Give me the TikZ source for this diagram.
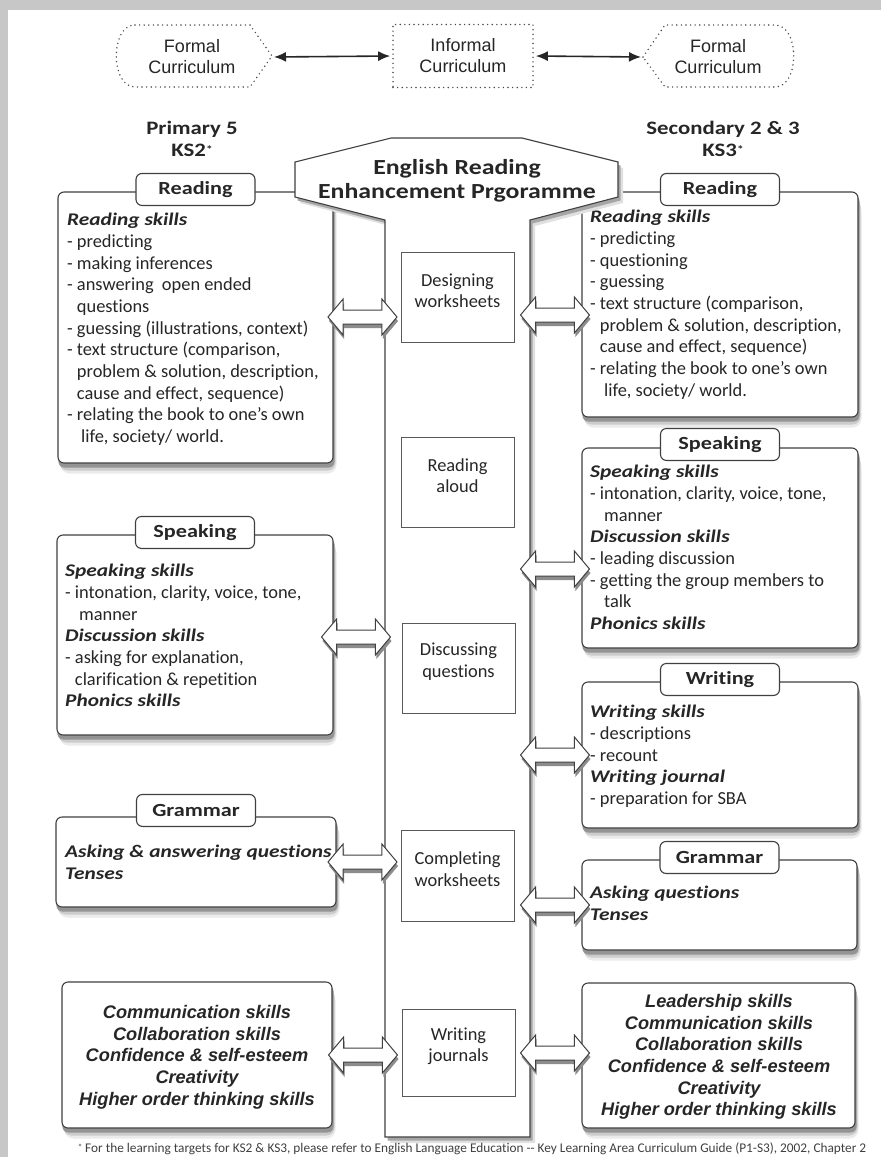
\documentclass[tikz,border=0pt]{standalone}
\usepackage{fontspec}
\setmainfont{Carlito}[Ligatures={TeX,NoCommon}]
\newfontfamily\wideff[FakeStretch=1.2, Ligatures={TeX,NoCommon}]{Carlito}
\newfontfamily\arialff{Liberation Sans}
\usetikzlibrary{positioning, calc, fit, arrows.meta, shapes.arrows}
\pgfdeclarelayer{bg}
\pgfdeclarelayer{shade}
\pgfsetlayers{bg,shade,main}

\newcommand{\skillhead}[1]{{\wideff\bfseries\itshape\fontsize{17.8}{21.7}\selectfont #1}}
\newcommand{\cont}{\phantom{- }}

\tikzset{
  skillbox/.style={draw=black!75, line width=1.1pt, rounded corners=6pt, fill=white, inner sep=0pt},
  tabbox/.style={draw=black!75, line width=1.1pt, rounded corners=6pt, fill=white, inner sep=0pt, minimum width=119pt, minimum height=32pt, font=\wideff\bfseries\fontsize{18.5}{20}\selectfont, text=black!85},
  actbox/.style={draw=black!65, line width=0.9pt, fill=white, inner sep=0pt, align=center, font=\fontsize{18.4}{21.5}\selectfont, text=black!85},
  skilltxt/.style={anchor=north west, align=left, inner sep=0pt, font=\fontsize{18.4}{21.7}\selectfont, text=black!85},
  goaltxt/.style={align=center, inner sep=0pt, font=\arialff\bfseries\itshape\fontsize{18.2}{21.7}\selectfont, text=black!85},
  dblarrow/.style={shape=double arrow, draw=black!75, fill=white, line width=1pt, minimum height=69pt, inner xsep=0pt, inner ysep=6.5pt, double arrow head extend=11pt, double arrow tip angle=100},
  curr/.style={draw=black!70, line width=1.6pt, line cap=round, dash pattern=on 0pt off 4.6pt},
  currtxt/.style={align=center, inner sep=0pt, font=\arialff\fontsize{18}{21}\selectfont, text=black!85},
  twoway/.style={{Latex[length=12pt,width=10pt]}-{Latex[length=12pt,width=10pt]}, line width=1.6pt, draw=black!85, shorten >=2pt, shorten <=2pt},
  stage/.style={align=center, inner sep=0pt, font=\wideff\bfseries\fontsize{19}{22.5}\selectfont, text=black!85}
}

\begin{document}
\begin{tikzpicture}[x=1pt, y=-1pt]
    \useasboundingbox (0,0) rectangle (881,1157);
    \begin{pgfonlayer}{bg}
        \fill[black!22] (0,0) rectangle (881,1157);
        \fill[white] (8,10) rectangle (881,1157);
    \end{pgfonlayer}

    % curricula on top
    \node[currtxt] (fcl) at (192,57) {Formal\\Curriculum};
    \draw[curr] (135,25) -- (250,25) -- (272,56) -- (250,87) -- (135,87) .. controls (110,87) and (110,25) .. (135,25);
    \node[currtxt, curr, minimum width=140pt, minimum height=63pt] (infc) at (463,56) {Informal\\Curriculum};
    \node[currtxt] (fcr) at (718,57) {Formal\\Curriculum};
    \draw[curr] (643,57) -- (665,25) -- (775,25) .. controls (800,25) and (800,87) .. (775,87) -- (665,87) -- cycle;
    \coordinate (fclTip) at (272,57);
    \coordinate (fcrTip) at (643,57);
    \draw[twoway] (fclTip) -- (infc.west);
    \draw[twoway] (infc.east) -- (fcrTip);

    \node[stage] (ks2) at (192,139) {Primary 5\\KS2\raisebox{3pt}{\fontsize{11}{11}\selectfont *}};
    \node[stage] (ks3) at (723,139) {Secondary 2 \& 3\\KS3\raisebox{3pt}{\fontsize{11}{11}\selectfont *}};

    % primary side
    \node[skillbox, fit={(58,192)(333,463)}] (lrd) {};
    \node[tabbox] (lrdTab) at ([yshift=2pt]lrd.north) {Reading};
    \node[skilltxt] (lrdT) at (67,213) {\skillhead{Reading skills}\\
        - predicting\\
        - making inferences\\
        - answering\ \ open ended\\
        \cont questions\\
        - guessing (illustrations, context)\\
        - text structure (comparison,\\
        \cont problem \& solution, description,\\
        \cont cause and effect, sequence)\\
        - relating the book to one's own\\
        \cont\ life, society/ world.};

    \node[skillbox, fit={(57,535)(333,735)}] (lsp) {};
    \node[tabbox] (lspTab) at ([yshift=2pt]lsp.north) {Speaking};
    \node[skilltxt] (lspT) at (65,564) {\skillhead{Speaking skills}\\
        - intonation, clarity, voice, tone,\\
        \cont\ manner\\
        \skillhead{Discussion skills}\\
        - asking for explanation,\\
        \cont clarification \& repetition\\
        \skillhead{Phonics skills}};

    \node[skillbox, fit={(56,817)(336,907)}] (lgr) {};
    \node[tabbox] (lgrTab) at ([yshift=6pt]lgr.north) {Grammar};
    \node[skilltxt] (lgrT) at (65,845) {\skillhead{Asking \& answering questions}\\
        \skillhead{Tenses}};

    \node[skillbox, fit={(62,982)(332,1128)}] (lbt) {};
    \node[goaltxt] (lbtT) at (197,1057) {Communication skills\\Collaboration skills\\Confidence \& self-esteem\\Creativity\\Higher order thinking skills};

    % secondary side
    \node[skillbox, fit={(582,192)(858,417)}] (rrd) {};
    \node[tabbox] (rrdTab) at ([yshift=2pt]rrd.north) {Reading};
    \node[skilltxt] (rrdT) at (590,210) {\skillhead{Reading skills}\\
        - predicting\\
        - questioning\\
        - guessing\\
        - text structure (comparison,\\
        \cont problem \& solution, description,\\
        \cont cause and effect, sequence)\\
        - relating the book to one's own\\
        \cont\ life, society/ world.};

    \node[skillbox, fit={(582,448)(858,648)}] (rsp) {};
    \node[tabbox] (rspTab) at ([yshift=3pt]rsp.north) {Speaking};
    \node[skilltxt] (rspT) at (590,465) {\skillhead{Speaking skills}\\
        - intonation, clarity, voice, tone,\\
        \cont\ manner\\
        \skillhead{Discussion skills}\\
        - leading discussion\\
        - getting the group members to\\
        \cont\ talk\\
        \skillhead{Phonics skills}};

    \node[skillbox, fit={(582,682)(858,828)}] (rwr) {};
    \node[tabbox] (rwrTab) at ([yshift=2pt]rwr.north) {Writing};
    \node[skilltxt] (rwrT) at (590,705) {\skillhead{Writing skills}\\
        - descriptions\\
        - recount\\
        \skillhead{Writing journal}\\
        - preparation for SBA};

    \node[skillbox, fit={(582,860)(857,950)}] (rgr) {};
    \node[tabbox] (rgrTab) at ([yshift=2pt]rgr.north) {Grammar};
    \node[skilltxt] (rgrT) at (590,886) {\skillhead{Asking questions}\\
        \skillhead{Tenses}};

    \node[skillbox, fit={(582,983)(855,1128)}] (rbt) {};
    \node[goaltxt] (rbtT) at (719,1057) {Leadership skills\\Communication skills\\Collaboration skills\\Confidence \& self-esteem\\Creativity\\Higher order thinking skills};

    % soft shadows under the boxes
    \begin{pgfonlayer}{shade}
        \foreach \b in {lrd,lsp,lgr,lbt,rrd,rsp,rwr,rgr,rbt} {
            \fill[black!8, rounded corners=9pt] ([xshift=3pt,yshift=-10pt]\b.south west) rectangle ([xshift=3pt,yshift=-10pt]\b.north east);
            \fill[black!20, rounded corners=8pt] ([xshift=2pt,yshift=-7pt]\b.south west) rectangle ([xshift=2pt,yshift=-7pt]\b.north east);
            \fill[black!42, rounded corners=6pt] ([xshift=1pt,yshift=-4pt]\b.south west) rectangle ([xshift=1pt,yshift=-4pt]\b.north east);
        }
    \end{pgfonlayer}

    % programme column
    \fill[black!12, shift={(5,6)}] (295,162) -- (391,138) -- (522,138) -- (618,162) -- (618,197) -- (530,220) -- (530,1137) -- (385,1137) -- (385,220) -- (295,197) -- cycle;
    \fill[black!35, shift={(2.5,3.5)}] (295,162) -- (391,138) -- (522,138) -- (618,162) -- (618,197) -- (530,220) -- (530,1137) -- (385,1137) -- (385,220) -- (295,197) -- cycle;
    \draw[draw=black!75, line width=1.1pt, fill=white] (295,162) -- (391,138) -- (522,138) -- (618,162) -- (618,197) -- (530,220) -- (530,1137) -- (385,1137) -- (385,220) -- (295,197) -- cycle;
    \node[align=center, inner sep=0pt, font=\wideff\bfseries\fontsize{21.5}{23.5}\selectfont, text=black!85] (ttl) at (457,181) {English Reading\\Enhancement Prgoramme};

    \node[actbox, fit={(401,252)(514,342)}] (dsg) {Designing\\worksheets};
    \node[actbox, fit={(401,437)(514,527)}] (rla) {Reading\\aloud};
    \node[actbox, fit={(402,623)(515,713)}] (dsc) {Discussing\\questions};
    \node[actbox, fit={(401,830)(514,921)}] (cmp) {Completing\\worksheets};
    \node[actbox, fit={(402,1009)(515,1096)}] (wjr) {Writing\\journals};

    % links
    \foreach \n/\x/\y in {1/362.5/317, 2/356/637, 3/362.5/862, 4/363/1055, 5/555/315, 6/555/569, 7/555/755, 8/555/905, 9/555/1053} {
        \node[dblarrow, draw=none, fill=black!45] at (\x+1,\y+4) {};
        \node[dblarrow] (lnk\n) at (\x,\y) {};
    }

    \node[inner sep=0pt, font=\fontsize{13.3}{14}\selectfont, text=black!75] (note) at (472,1149) {\raisebox{2pt}{\fontsize{9}{9}\selectfont *} For the learning targets for KS2 \& KS3, please refer to English Language Education -{}- Key Learning Area Curriculum Guide (P1-S3), 2002, Chapter 2};
\end{tikzpicture}
\end{document}
